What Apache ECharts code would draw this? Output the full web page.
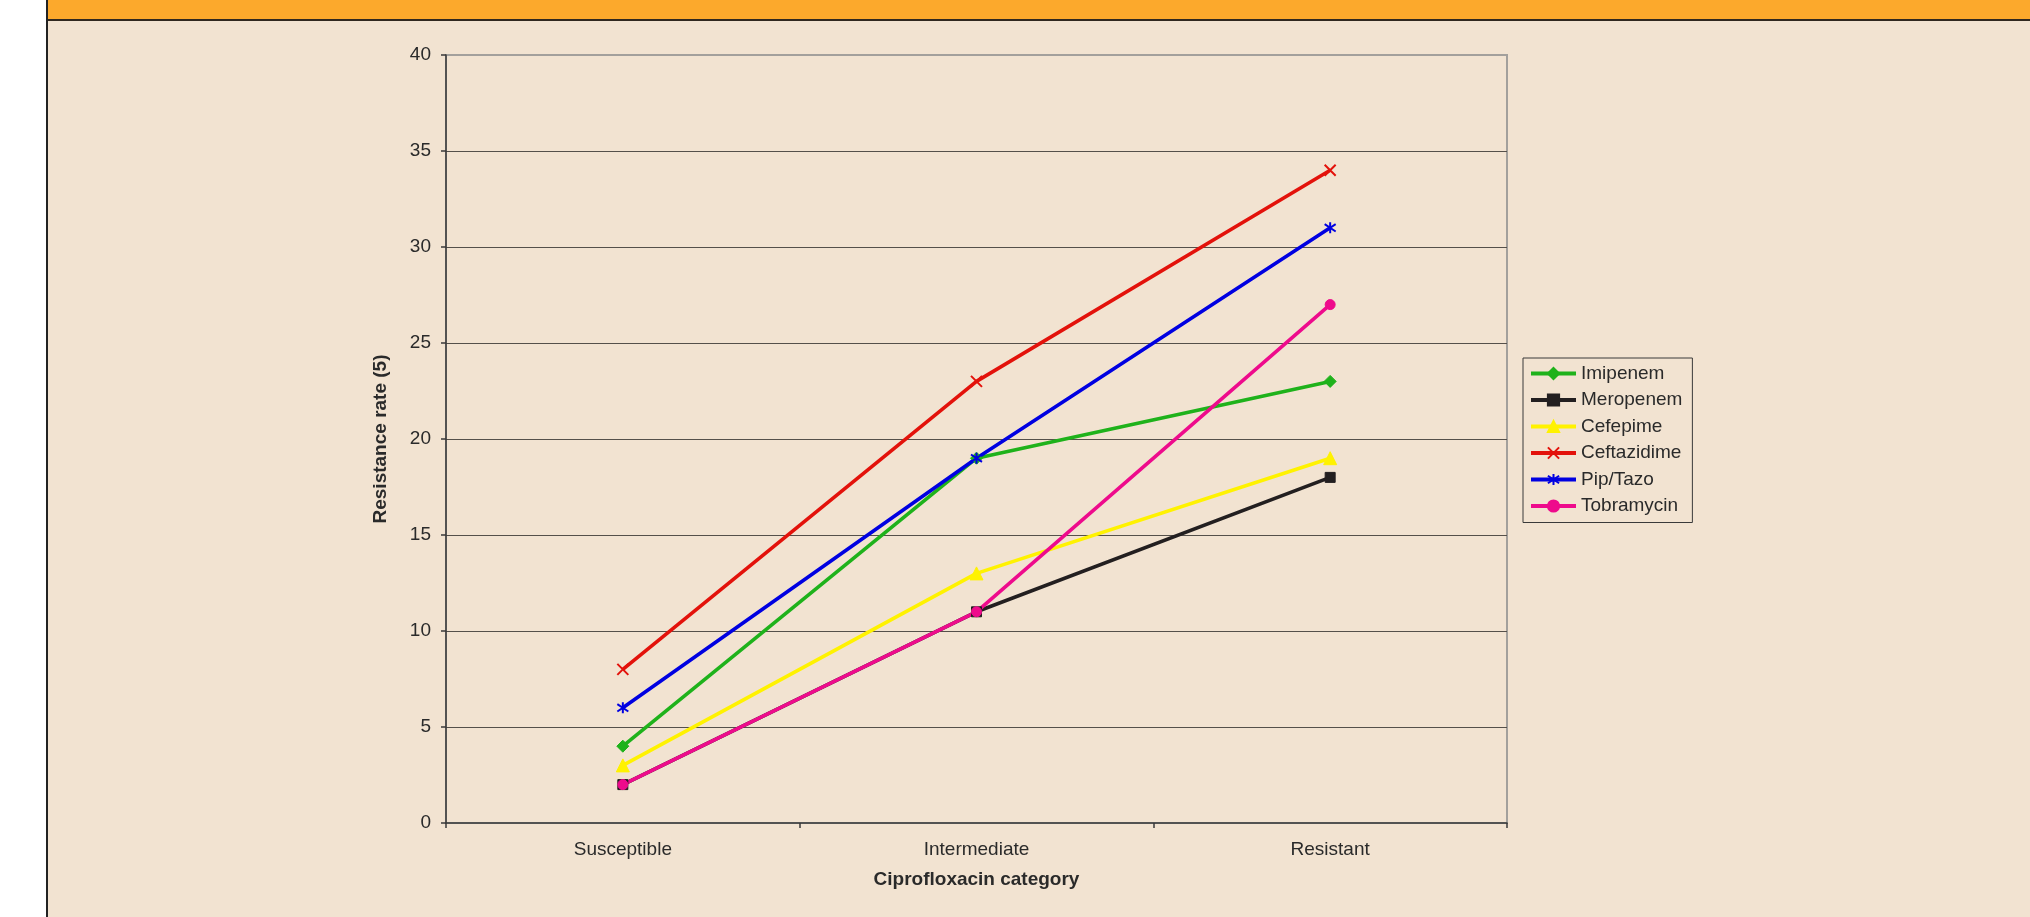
<!DOCTYPE html>
<html>
<head>
<meta charset="utf-8">
<script src="https://cdn.jsdelivr.net/npm/echarts@6/dist/echarts.min.js"></script>
<style>
html,body{margin:0;padding:0;background:#fff;}
#chart{width:2030px;height:917px;}
</style>
</head>
<body>
<div id="chart"></div>
<script>
var categories = ['Susceptible', 'Intermediate', 'Resistant'];
var imipenem = [4, 19, 23];
var meropenem = [2, 11, 18];
var cefepime = [3, 13, 19];
var ceftazidime = [8, 23, 34];
var pipTazo = [6, 19, 31];
var tobramycin = [2, 11, 27];
var yTicks = {min: 0, max: 40, interval: 5};

var FONT = '"Liberation Sans", Arial, sans-serif';
var TXT = '#2a2a2a';

function mk(name, data, color, symbol, size, bw) {
  return {
    name: name, type: 'line', data: data,
    symbol: symbol, symbolSize: size,
    lineStyle: {color: color, width: 3.6},
    itemStyle: {color: color, borderColor: name === 'Meropenem' ? '#231f20' : color, borderWidth: bw},
    emphasis: {disabled: true}
  };
}

var chart = echarts.init(document.getElementById('chart'), null, {renderer: 'canvas'});
chart.setOption({
  animation: false,
  backgroundColor: '#ffffff',
  textStyle: {fontFamily: FONT},
  graphic: [
    {type: 'rect', z: -10, silent: true, shape: {x: 48, y: 0, width: 1982, height: 917}, style: {fill: '#f2e3d1'}},
    {type: 'rect', z: -9, silent: true, shape: {x: 48, y: 0, width: 1982, height: 19}, style: {fill: '#fca92c'}},
    {type: 'rect', z: -9, silent: true, shape: {x: 48, y: 19, width: 1982, height: 2}, style: {fill: '#30281f'}},
    {type: 'rect', z: -9, silent: true, shape: {x: 46, y: 0, width: 2, height: 917}, style: {fill: '#222222'}}
  ],
  grid: {
    left: 446, right: 523, top: 55, bottom: 94,
    show: true, backgroundColor: 'transparent', borderColor: '#a3a09c', borderWidth: 2,
    containLabel: false
  },
  legend: {
    orient: 'vertical',
    left: 1523, top: 358,
    padding: [6, 10, 7, 6],
    itemWidth: 45, itemHeight: 14, itemGap: 7.5,
    borderColor: '#3a3a3a', borderWidth: 1,
    backgroundColor: '#f2e3d1',
    lineStyle: {width: 4},
    textStyle: {fontSize: 19, lineHeight: 19, color: TXT, fontFamily: FONT},
    data: ['Imipenem', 'Meropenem', 'Cefepime', 'Ceftazidime', 'Pip/Tazo', 'Tobramycin']
  },
  xAxis: {
    type: 'category', data: categories, boundaryGap: true,
    name: 'Ciprofloxacin category', nameLocation: 'middle', nameGap: 47,
    nameTextStyle: {fontSize: 19, fontWeight: 'bold', color: TXT, fontFamily: FONT},
    axisLine: {show: true, lineStyle: {color: '#3a3a3a', width: 1.5}},
    axisTick: {show: true, length: 5, inside: false, lineStyle: {color: '#3a3a3a', width: 1.5}},
    axisLabel: {fontSize: 19, color: TXT, margin: 17, fontFamily: FONT},
    splitLine: {show: false}
  },
  yAxis: {
    type: 'value', min: yTicks.min, max: yTicks.max, interval: yTicks.interval,
    name: 'Resistance rate (5)', nameLocation: 'middle', nameGap: 56, nameRotate: 90,
    nameTextStyle: {fontSize: 19, fontWeight: 'bold', color: TXT, fontFamily: FONT},
    axisLine: {show: true, lineStyle: {color: '#3a3a3a', width: 1.5}},
    axisTick: {show: true, length: 5, inside: false, lineStyle: {color: '#3a3a3a', width: 1.5}},
    axisLabel: {fontSize: 19, color: TXT, margin: 15, fontFamily: FONT},
    splitLine: {show: true, showMaxLine: false, showMinLine: false, lineStyle: {color: '#55504a', width: 1.2}}
  },
  series: [
    mk('Imipenem', imipenem, '#1fb21b', 'diamond', 12, 1),
    mk('Meropenem', meropenem, '#231f20', 'rect', 10, 1),
    mk('Cefepime', cefepime, '#fff200', 'triangle', 13, 1),
    mk('Ceftazidime', ceftazidime, '#e3120b', 'path://M0,0L10,10M10,0L0,10', 11, 2),
    mk('Pip/Tazo', pipTazo, '#0000e1', 'path://M0,1L10,9M10,1L0,9M5,-1L5,11', 11, 2),
    mk('Tobramycin', tobramycin, '#ee0b8c', 'circle', 10, 1)
  ]
});
</script>
</body>
</html>
